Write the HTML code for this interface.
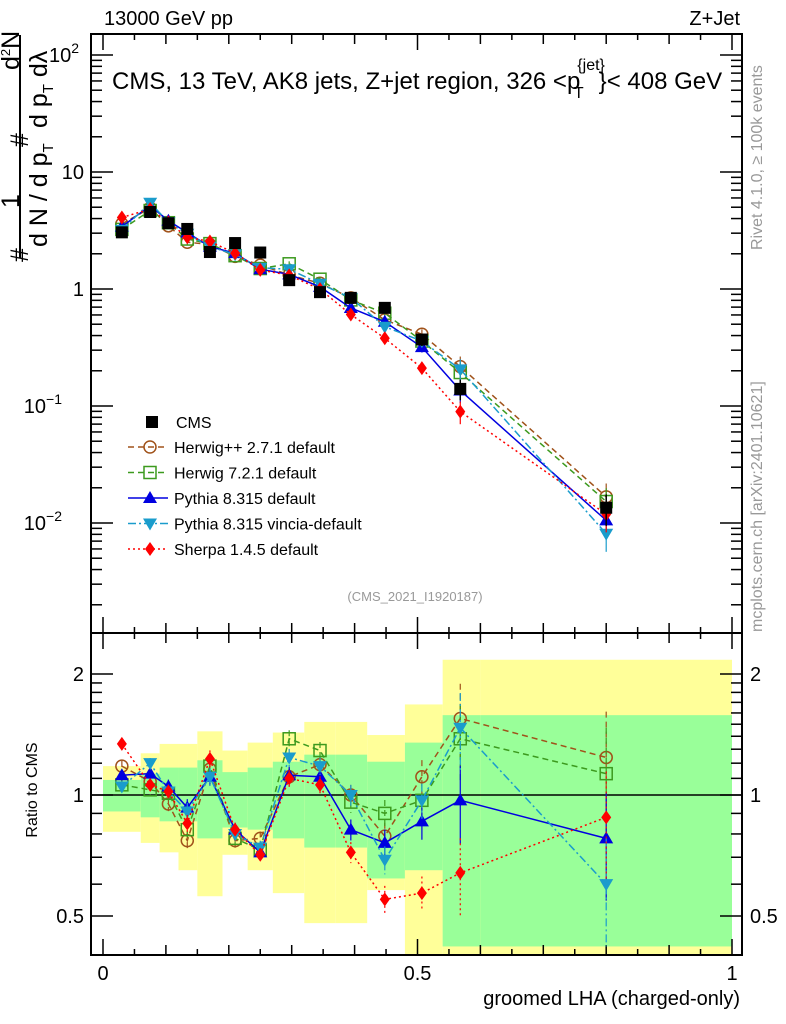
<!DOCTYPE html>
<html><head><meta charset="utf-8"><style>
html,body{margin:0;padding:0;background:#fff}
svg{display:block;font-family:"Liberation Sans",sans-serif}
</style></head><body>
<svg id="c" width="786" height="1024" viewBox="0 0 786 1024" xmlns="http://www.w3.org/2000/svg">
<g id="bands"></g>
<g id="grid"></g>
<g id="series"></g>
<text x="104" y="25" font-size="20">13000 GeV pp</text>
<text x="740" y="25" font-size="20" text-anchor="end">Z+Jet</text>
<text x="112" y="89" font-size="24">CMS, 13 TeV, AK8 jets, Z+jet region, 326 &lt;p<tspan font-size="16" dy="-19" dx="-3">{jet}</tspan><tspan font-size="16" dx="-31" dy="28">T</tspan><tspan font-size="24" dx="15" dy="-9">}&lt; 408 GeV</tspan></text>
<text x="415" y="601" font-size="13" fill="#999" text-anchor="middle">(CMS_2021_I1920187)</text>
<text transform="translate(762,250) rotate(-90)" font-size="16" fill="#999">Rivet 4.1.0, ≥ 100k events</text>
<text transform="translate(762,632) rotate(-90)" font-size="16" fill="#999">mcplots.cern.ch [arXiv:2401.10621]</text>
<g font-size="25">
<line x1="20" y1="35" x2="20" y2="258" stroke="#000" stroke-width="2"/>
<text transform="translate(28,262) rotate(-90)">#</text>
<text transform="translate(19,208) rotate(-90)">1</text>
<text transform="translate(28,147) rotate(-90)">#</text>
<text transform="translate(19,70) rotate(-90)">d<tspan font-size="13" dy="-9">2</tspan><tspan dy="9">N</tspan></text>
<text transform="translate(47,247) rotate(-90)">d N / d p<tspan font-size="15" dy="6">T</tspan></text>
<text transform="translate(47,128) rotate(-90)">d p<tspan font-size="15" dy="6">T</tspan><tspan dy="-6"> dλ</tspan></text>
</g>
<text transform="translate(37,790) rotate(-90)" font-size="16" text-anchor="middle">Ratio to CMS</text>
<text x="740" y="1005" font-size="20" text-anchor="end">groomed LHA (charged-only)</text>
<g id="legend"></g>
</svg>
<script>
const edges=[0,0.06,0.09,0.12,0.15,0.19,0.23,0.27,0.32,0.37,0.42,0.48,0.54,0.6,1];
const xvals=[0.03,0.075,0.104,0.134,0.17,0.21,0.25,0.296,0.345,0.394,0.448,0.507,0.568,0.8];
const cms=[3.05,4.55,3.65,3.26,2.07,2.47,2.05,1.19,0.94,0.84,0.69,0.37,0.14,0.0135];
const cmsErr=[0.04,0.04,0.05,0.05,0.06,0.06,0.06,0.07,0.08,0.08,0.1,0.12,0.2,0.3];
const bandYelHi=[1.18,1.27,1.34,1.34,1.44,1.29,1.35,1.43,1.52,1.52,1.41,1.68,2.17,2.17];
const bandYelLo=[0.81,0.76,0.72,0.65,0.56,0.71,0.65,0.57,0.48,0.48,0.58,0.3,0.3,0.3];
const bandGrnHi=[1.09,1.13,1.17,1.17,1.22,1.14,1.17,1.21,1.26,1.26,1.21,1.35,1.58,1.58];
const bandGrnLo=[0.91,0.88,0.86,0.86,0.78,0.83,0.82,0.78,0.74,0.74,0.62,0.65,0.42,0.42];
const rHerwigpp=[1.18,1.08,0.95,0.77,1.16,0.77,0.78,1.11,1.19,1.0,0.79,1.11,1.55,1.24];
const rHerwig7=[1.06,1.03,1.01,0.82,1.18,0.78,0.73,1.38,1.29,0.96,0.9,0.97,1.38,1.13];
const rPythia=[1.12,1.13,1.05,0.93,1.11,0.82,0.72,1.12,1.11,0.82,0.76,0.86,0.97,0.78];
const rVincia=[1.05,1.2,1.02,0.91,1.11,0.8,0.74,1.24,1.18,1.0,0.69,0.97,1.47,0.6];
const rSherpa=[1.34,1.06,1.02,0.85,1.23,0.82,0.71,1.1,1.06,0.72,0.55,0.57,0.64,0.88];
const mcErr=[0.03,0.03,0.04,0.05,0.05,0.04,0.04,0.05,0.05,0.06,0.08,0.1,0.22,0.3];
const NS="http://www.w3.org/2000/svg";
const X=v=>103+629*v, YM=v=>289-117*Math.log10(v), YR=r=>795-121*Math.log2(r);
const MT=34,MB=633,RB=955,L=91,R=742;
function el(p,t,a){const e=document.createElementNS(NS,t);for(const k in a)e.setAttribute(k,a[k]);p.appendChild(e);return e;}
const bands=document.getElementById('bands'),grid=document.getElementById('grid'),ser=document.getElementById('series'),leg=document.getElementById('legend');
const clipR=el(bands,'clipPath',{id:'cr'});el(clipR,'rect',{x:L,y:MB,width:R-L,height:RB-MB});
const clipM=el(bands,'clipPath',{id:'cm'});el(clipM,'rect',{x:L,y:MT,width:R-L,height:MB-MT});
const bg=el(bands,'g',{'clip-path':'url(#cr)'});
for(let i=0;i<xvals.length;i++){
 const x0=X(edges[i]),x1=X(edges[i+1]);
 const y=el(bg,'rect',{x:x0,y:YR(bandYelHi[i]),width:x1-x0,height:YR(bandYelLo[i])-YR(bandYelHi[i]),fill:'#ffff99'});
 
 
 const g=el(bg,'rect',{x:x0,y:YR(bandGrnHi[i]),width:x1-x0,height:YR(bandGrnLo[i])-YR(bandGrnHi[i]),fill:'#99ff99'});
 
 
}
el(grid,'rect',{x:L,y:MT,width:R-L,height:MB-MT,fill:'none',stroke:'#000','stroke-width':2});
el(grid,'rect',{x:L,y:MB,width:R-L,height:RB-MB,fill:'none',stroke:'#000','stroke-width':2});
el(grid,'line',{x1:L,x2:R,y1:YR(1),y2:YR(1),stroke:'#000','stroke-width':1.5});
for(let k=0;k<=20;k++){const v=k*0.05,x=X(v);if(x>R)break;const big=k%10==0,len=big?16:(k%2==0?10:6);
 for(const [yb,dir] of [[MT,1],[MB,-1],[MB,1],[RB,-1]]) el(grid,'line',{x1:x,x2:x,y1:yb,y2:yb+dir*len,stroke:'#000','stroke-width':1.5});}
const xtl=['0','0.5','1'];
xtl.forEach((t,i)=>{const tx=el(grid,'text',{x:X(i*0.5),y:980,'font-size':20,'text-anchor':'middle'});tx.textContent=t;
 
 });
for(let d=-3;d<=2;d++)for(let m=1;m<10;m++){const v=m*Math.pow(10,d),y=YM(v);if(y<MT||y>MB)continue;const len=m==1?22:11;
 el(grid,'line',{x1:L,x2:L+len,y1:y,y2:y,stroke:'#000','stroke-width':1.5});el(grid,'line',{x1:R,x2:R-len,y1:y,y2:y,stroke:'#000','stroke-width':1.5});}
const ytl=[['10','2',2,79],['10','',1,84],['1','',0,84],['10','−1',-1,62],['10','−2',-2,62]];
ytl.forEach(([b,e,d,xe])=>{const y=YM(Math.pow(10,d))+7;const tx=el(grid,'text',{x:xe,y:y,'font-size':20,'text-anchor':'end'});
 tx.textContent=b;if(e){const s=el(tx,'tspan',{'font-size':14,dy:-9});s.textContent=e;}
 
 });
const rt=[0.4,0.5,0.6,0.7,0.8,0.9,1,1.1,1.2,1.3,1.4,1.5,1.6,1.7,1.8,1.9,2];
rt.forEach(r=>{const y=YR(r);const big=(r==0.5||r==1||r==2);const len=big?22:11;
 el(grid,'line',{x1:L,x2:L+len,y1:y,y2:y,stroke:'#000','stroke-width':1.5});el(grid,'line',{x1:R,x2:R-len,y1:y,y2:y,stroke:'#000','stroke-width':1.5});});
const rtl=['0.5','1','2'];
rtl.forEach(t=>{const y=YR(+t)+7;for(const [x,a] of [[84,'end'],[750,'start']]){const tx=el(grid,'text',{x:x,y:y,'font-size':20,'text-anchor':a});tx.textContent=t;
 
 }});
function marker(g,type,x,y,c){
 if(type=='sq')el(g,'rect',{x:x-6,y:y-6,width:12,height:12,fill:c});
 else if(type=='circ')el(g,'circle',{cx:x,cy:y,r:6,fill:'none',stroke:c,'stroke-width':1.5});
 else if(type=='osq')el(g,'rect',{x:x-6,y:y-6,width:12,height:12,fill:'none',stroke:c,'stroke-width':1.5});
 else if(type=='tri')el(g,'polygon',{points:`${x},${y-7} ${x-7},${y+5} ${x+7},${y+5}`,fill:c});
 else if(type=='itri')el(g,'polygon',{points:`${x},${y+7} ${x-7},${y-5} ${x+7},${y-5}`,fill:c});
 else if(type=='dia')el(g,'polygon',{points:`${x},${y-7} ${x-5},${y} ${x},${y+7} ${x+5},${y}`,fill:c});
}
const series=[
 {n:'Herwig++ 2.7.1 default',r:rHerwigpp,c:'#a0521a',m:'circ',d:'6,4',key:'herwigpp'},
 {n:'Herwig 7.2.1 default',r:rHerwig7,c:'#3c9a1e',m:'osq',d:'6,4',key:'herwig7'},
 {n:'Pythia 8.315 default',r:rPythia,c:'#0000e0',m:'tri',d:'',key:'pythia'},
 {n:'Pythia 8.315 vincia-default',r:rVincia,c:'#1a9ccc',m:'itri',d:'8,3,2,3',key:'vincia'},
 {n:'Sherpa 1.4.5 default',r:rSherpa,c:'#ff0000',m:'dia',d:'2,3',key:'sherpa'}];
const gm=el(ser,'g',{'clip-path':'url(#cm)'}),gr=el(ser,'g',{'clip-path':'url(#cr)'});
series.forEach(s=>{
 const mg=el(gm,'g',{});
 const rg=el(gr,'g',{});
 const vals=s.r.map((r,i)=>cms[i]*r);
 el(mg,'polyline',{points:vals.map((v,i)=>X(xvals[i])+','+YM(v)).join(' '),fill:'none',stroke:s.c,'stroke-width':1.5,'stroke-dasharray':s.d});
 el(rg,'polyline',{points:s.r.map((v,i)=>X(xvals[i])+','+YR(v)).join(' '),fill:'none',stroke:s.c,'stroke-width':1.5,'stroke-dasharray':s.d});
 s.r.forEach((r,i)=>{const x=X(xvals[i]),e=mcErr[i];
  el(rg,'line',{x1:x,x2:x,y1:YR(r*(1+e)),y2:YR(r*(1-e)),stroke:s.c,'stroke-width':1.2,'stroke-dasharray':s.d});
  el(mg,'line',{x1:x,x2:x,y1:YM(vals[i]*(1+e)),y2:YM(vals[i]*(1-e)),stroke:s.c,'stroke-width':1.2});
  marker(mg,s.m,x,YM(vals[i]),s.c);marker(rg,s.m,x,YR(r),s.c);});
});
const dg=el(gm,'g',{});
cms.forEach((v,i)=>{const x=X(xvals[i]);el(dg,'line',{x1:x,x2:x,y1:YM(v*(1+cmsErr[i])),y2:YM(v*(1-cmsErr[i])),stroke:'#000','stroke-width':1.5});marker(dg,'sq',x,YM(v),'#000');});
const l0=el(leg,'g',{});
marker(l0,'sq',152,422,'#000');const t0=el(l0,'text',{x:176,y:428,'font-size':16});t0.textContent='CMS';
series.forEach((s,k)=>{const y=447+k*25.5;const g=el(leg,'g',{});
 
 
 el(g,'line',{x1:128,x2:168,y1:y,y2:y,stroke:s.c,'stroke-width':1.5,'stroke-dasharray':s.d});
 marker(g,s.m,150,y,s.c);const t=el(g,'text',{x:174,y:y+6,'font-size':16});t.textContent=s.n;});
</script>
</body></html>
